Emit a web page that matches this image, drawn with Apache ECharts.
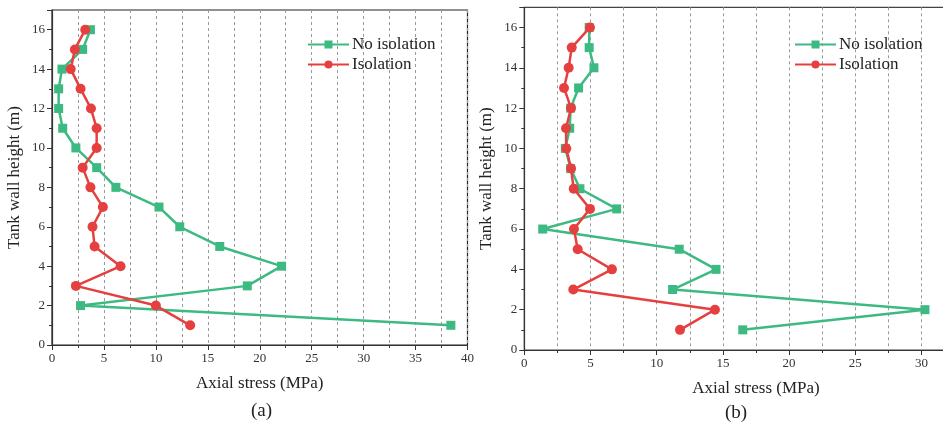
<!DOCTYPE html>
<html>
<head>
<meta charset="utf-8">
<script src="https://cdn.jsdelivr.net/npm/echarts@6/dist/echarts.min.js"></script>
<style>html,body{margin:0;padding:0;background:#fff;}#c{width:943px;height:428px;}</style>
</head>
<body>
<div id="c"></div>
<script>
// Heights (m)
const heights = [16, 15, 14, 13, 12, 11, 10, 9, 8, 7, 6, 5, 4, 3, 2, 1];
// Panel (a)
const aNoIsolation = [3.7, 2.95, 0.96, 0.64, 0.64, 1.03, 2.3, 4.3, 6.15, 10.3, 12.3, 16.15, 22.1, 18.8, 2.75, 38.4];
const aIsolation   = [3.2, 2.2, 1.8, 2.75, 3.75, 4.3, 4.3, 2.95, 3.7, 4.9, 3.9, 4.1, 6.6, 2.3, 10.0, 13.3];
// Panel (b)
const bNoIsolation = [4.9, 4.9, 5.26, 4.1, 3.5, 3.43, 3.1, 3.5, 4.2, 6.98, 1.39, 11.7, 14.48, 11.2, 30.26, 16.5];
const bIsolation   = [4.96, 3.58, 3.35, 3.0, 3.53, 3.15, 3.17, 3.53, 3.73, 4.96, 3.75, 4.03, 6.62, 3.7, 14.4, 11.76];

const seriesNames = ['No isolation', 'Isolation'];
const xTitle = 'Axial stress (MPa)';
const yTitle = 'Tank wall height (m)';
const panelLabels = ['(a)', '(b)'];

const GREEN = '#3dba82';
const RED = '#e5403f';
const FONT = 'Liberation Serif';

function pairs(xs) { return xs.map((v, i) => [v, heights[i]]); }

function xAxisFor(gi, max) {
  return {
    gridIndex: gi, type: 'value', min: 0, max: max, interval: 5,
    name: xTitle, nameLocation: 'middle', nameGap: 30,
    nameTextStyle: { fontFamily: FONT, fontSize: 17, color: '#222' },
    axisLine: { show: true, lineStyle: { color: '#333', width: 1.2 } },
    axisTick: { show: true, length: 5, lineStyle: { color: '#333' } },
    minorTick: { show: true, splitNumber: 2, length: 3, lineStyle: { color: '#333' } },
    axisLabel: { fontFamily: FONT, fontSize: 13, color: '#333', margin: 7,
      formatter: v => (v <= 40 && v % 5 === 0 ? String(v) : '') },
    splitLine: { show: true, lineStyle: { color: '#9a9a9a', type: [3, 3], width: 1 } },
    minorSplitLine: { show: true, lineStyle: { color: '#9a9a9a', type: [3, 3], width: 1 } }
  };
}
function yAxesFor(gi) {
  return [{
    gridIndex: gi, type: 'value', min: 0, max: 17, interval: 2,
    name: yTitle, nameLocation: 'middle', nameGap: 29, nameRotate: 90,
    nameTextStyle: { fontFamily: FONT, fontSize: 17, color: '#222' },
    axisLine: { show: true, lineStyle: { color: '#333', width: 1.2 } },
    axisTick: { show: true, length: 5, lineStyle: { color: '#333' } },
    axisLabel: { fontFamily: FONT, fontSize: 13, color: '#333', margin: 7,
      formatter: v => (v % 2 === 0 ? String(v) : '') },
    splitLine: { show: false }
  }, {
    gridIndex: gi, type: 'value', min: 0, max: 17, interval: 1, position: 'left',
    axisLine: { show: false },
    axisTick: { show: true, length: 3, lineStyle: { color: '#333' } },
    axisLabel: { show: false },
    splitLine: { show: false }
  }];
}
function lineSeries(name, data, xi, yi, color, symbol, size) {
  return {
    name: name, type: 'line', xAxisIndex: xi, yAxisIndex: yi, data: pairs(data),
    symbol: symbol, symbolSize: size, showSymbol: true,
    lineStyle: { color: color, width: 2.5 }, itemStyle: { color: color },
    z: name === 'Isolation' ? 3 : 2
  };
}

const chart = echarts.init(document.getElementById('c'), null, { renderer: 'canvas' });
const legendCommon = {
  orient: 'vertical', itemWidth: 41, itemHeight: 10, itemGap: 3,
  textStyle: { fontFamily: FONT, fontSize: 17, color: '#222', padding: [0, 0, 0, -2] },
  data: seriesNames
};
chart.setOption({
  animation: false,
  backgroundColor: '#fff',
  grid: [
    { left: 52, right: 475.5, top: 10, bottom: 83, show: true, borderColor: '#222', borderWidth: 1.2,
      outerBoundsMode: 'none', containLabel: false },
    { left: 524.3, right: -44.7, top: 7.3, bottom: 78, show: true, borderColor: '#444', borderWidth: 1.2,
      outerBoundsMode: 'none', containLabel: false }
  ],
  xAxis: [xAxisFor(0, 40), xAxisFor(1, 35)],
  yAxis: yAxesFor(0).concat(yAxesFor(1)),
  legend: [
    Object.assign({ left: 302, top: 31 }, legendCommon),
    Object.assign({ left: 789, top: 31 }, legendCommon)
  ],
  series: [
    lineSeries(seriesNames[0], aNoIsolation, 0, 0, GREEN, 'rect', 9),
    lineSeries(seriesNames[1], aIsolation, 0, 0, RED, 'circle', 10),
    lineSeries(seriesNames[0], bNoIsolation, 1, 2, GREEN, 'rect', 9),
    lineSeries(seriesNames[1], bIsolation, 1, 2, RED, 'circle', 10)
  ],
  graphic: [
    { type: 'text', left: 251, top: 402, style: { text: panelLabels[0], font: '19px "Liberation Serif"', fill: '#222' } },
    { type: 'text', left: 725, top: 404, style: { text: panelLabels[1], font: '19px "Liberation Serif"', fill: '#222' } }
  ]
});
</script>
</body>
</html>
